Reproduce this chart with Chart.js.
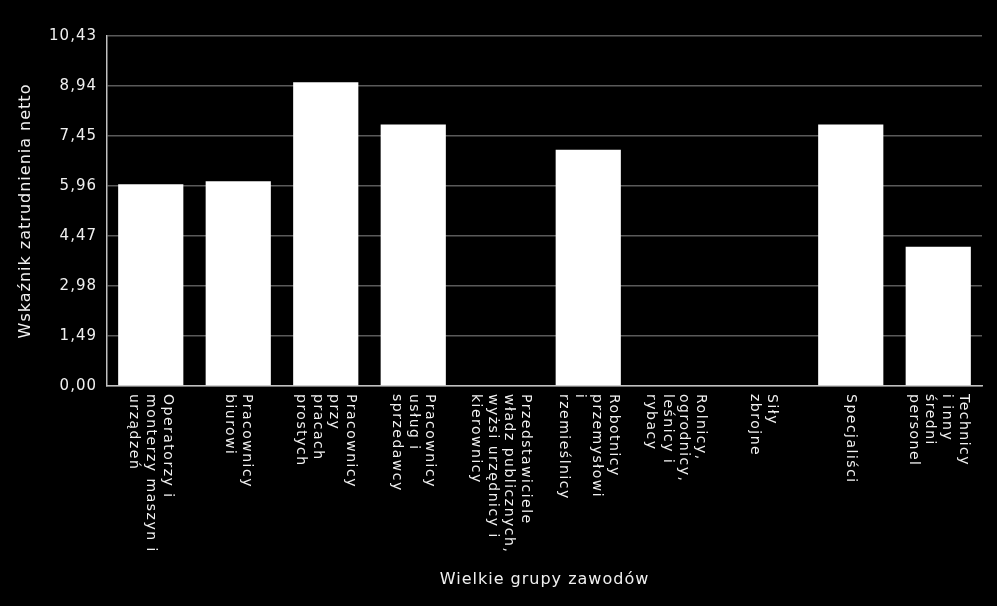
<!DOCTYPE html>
<html>
<head>
<meta charset="utf-8">
<script src="https://cdn.jsdelivr.net/npm/chart.js@4.4.1/dist/chart.umd.min.js"></script>
<style>
  html, body { margin: 0; padding: 0; background: #000; }
  #wrap { width: 997px; height: 606px; }
</style>
</head>
<body>
<div id="wrap"><canvas id="chart" width="997" height="606"></canvas></div>
<script>
// DATA
const categories = [
  ["Operatorzy i", "monterzy maszyn i", "urządzeń"],
  ["Pracownicy", "biurowi"],
  ["Pracownicy", "przy", "pracach", "prostych"],
  ["Pracownicy", "usług i", "sprzedawcy"],
  ["Przedstawiciele", "władz publicznych,", "wyżsi urzędnicy i", "kierownicy"],
  ["Robotnicy", "przemysłowi", "i", "rzemieślnicy"],
  ["Rolnicy,", "ogrodnicy,", "leśnicy i", "rybacy"],
  ["Siły", "zbrojne"],
  ["Specjaliści"],
  ["Technicy", "i inny", "średni", "personel"]
];
const values = [6.01, 6.10, 9.05, 7.79, 0, 7.04, 0, 0, 7.79, 4.15];
const yTicks = [0, 1.49, 2.98, 4.47, 5.96, 7.45, 8.94, 10.43];

const textColor = "#f0f0f0";

// letter spacing for the java-like look
const spacing = {
  id: "spacing",
  beforeDraw(chart) {
    chart.ctx.letterSpacing = "1px";
  }
};

// VERTICAL CATEGORY LABELS (read top to bottom)
const categoryLabels = {
  id: "categoryLabels",
  afterDraw(chart) {
    const ctx = chart.ctx;
    const x = chart.scales.x;
    const lh = 16.7;
    ctx.save();
    ctx.fillStyle = textColor;
    ctx.font = '14px "DejaVu Sans"';
    ctx.letterSpacing = "1.5px";
    ctx.textAlign = "left";
    ctx.textBaseline = "middle";
    categories.forEach((lines, i) => {
      const px = x.getPixelForTick(i);
      ctx.save();
      ctx.translate(px, x.top + 8);
      ctx.rotate(Math.PI / 2);
      lines.forEach((line, k) => {
        ctx.fillText(line, 0, (k - (lines.length - 1) / 2) * lh);
      });
      ctx.restore();
    });
    ctx.restore();
  }
};

new Chart(document.getElementById("chart"), {
  type: "bar",
  data: {
    labels: categories.map(c => c.join(" ")),
    datasets: [{
      data: values,
      backgroundColor: "#ffffff",
      borderWidth: 0,
      barPercentage: 0.745,
      categoryPercentage: 1.0
    }]
  },
  options: {
    responsive: false,
    animation: false,
    layout: {
      padding: { top: 36, right: 15, left: 0, bottom: 0 }
    },
    plugins: {
      legend: { display: false },
      tooltip: { enabled: false }
    },
    scales: {
      x: {
        afterFit: s => { s.height = 220; },
        ticks: { display: false },
        grid: { display: false },
        border: { color: "#c0c0c0", width: 1.5 },
        title: {
          display: true,
          text: "Wielkie grupy zawodów",
          color: textColor,
          font: { family: "DejaVu Sans", size: 16 },
          padding: { top: 0, bottom: 17 }
        }
      },
      y: {
        min: 0,
        max: 10.43,
        afterFit: s => { s.width = 107; },
        afterBuildTicks: s => { s.ticks = yTicks.map(v => ({ value: v })); },
        ticks: {
          color: textColor,
          font: { family: "DejaVu Sans", size: 15 },
          padding: 10,
          callback: v => v.toFixed(2).replace(".", ",")
        },
        grid: { color: "#5a5a5a", lineWidth: 1.5, drawTicks: false },
        border: { color: "#c0c0c0", width: 1.5 },
        title: {
          display: true,
          text: "Wskaźnik zatrudnienia netto",
          color: textColor,
          font: { family: "DejaVu Sans", size: 16 },
          padding: { top: 16, bottom: 0 }
        }
      }
    }
  },
  plugins: [spacing, categoryLabels]
});
</script>
</body>
</html>
